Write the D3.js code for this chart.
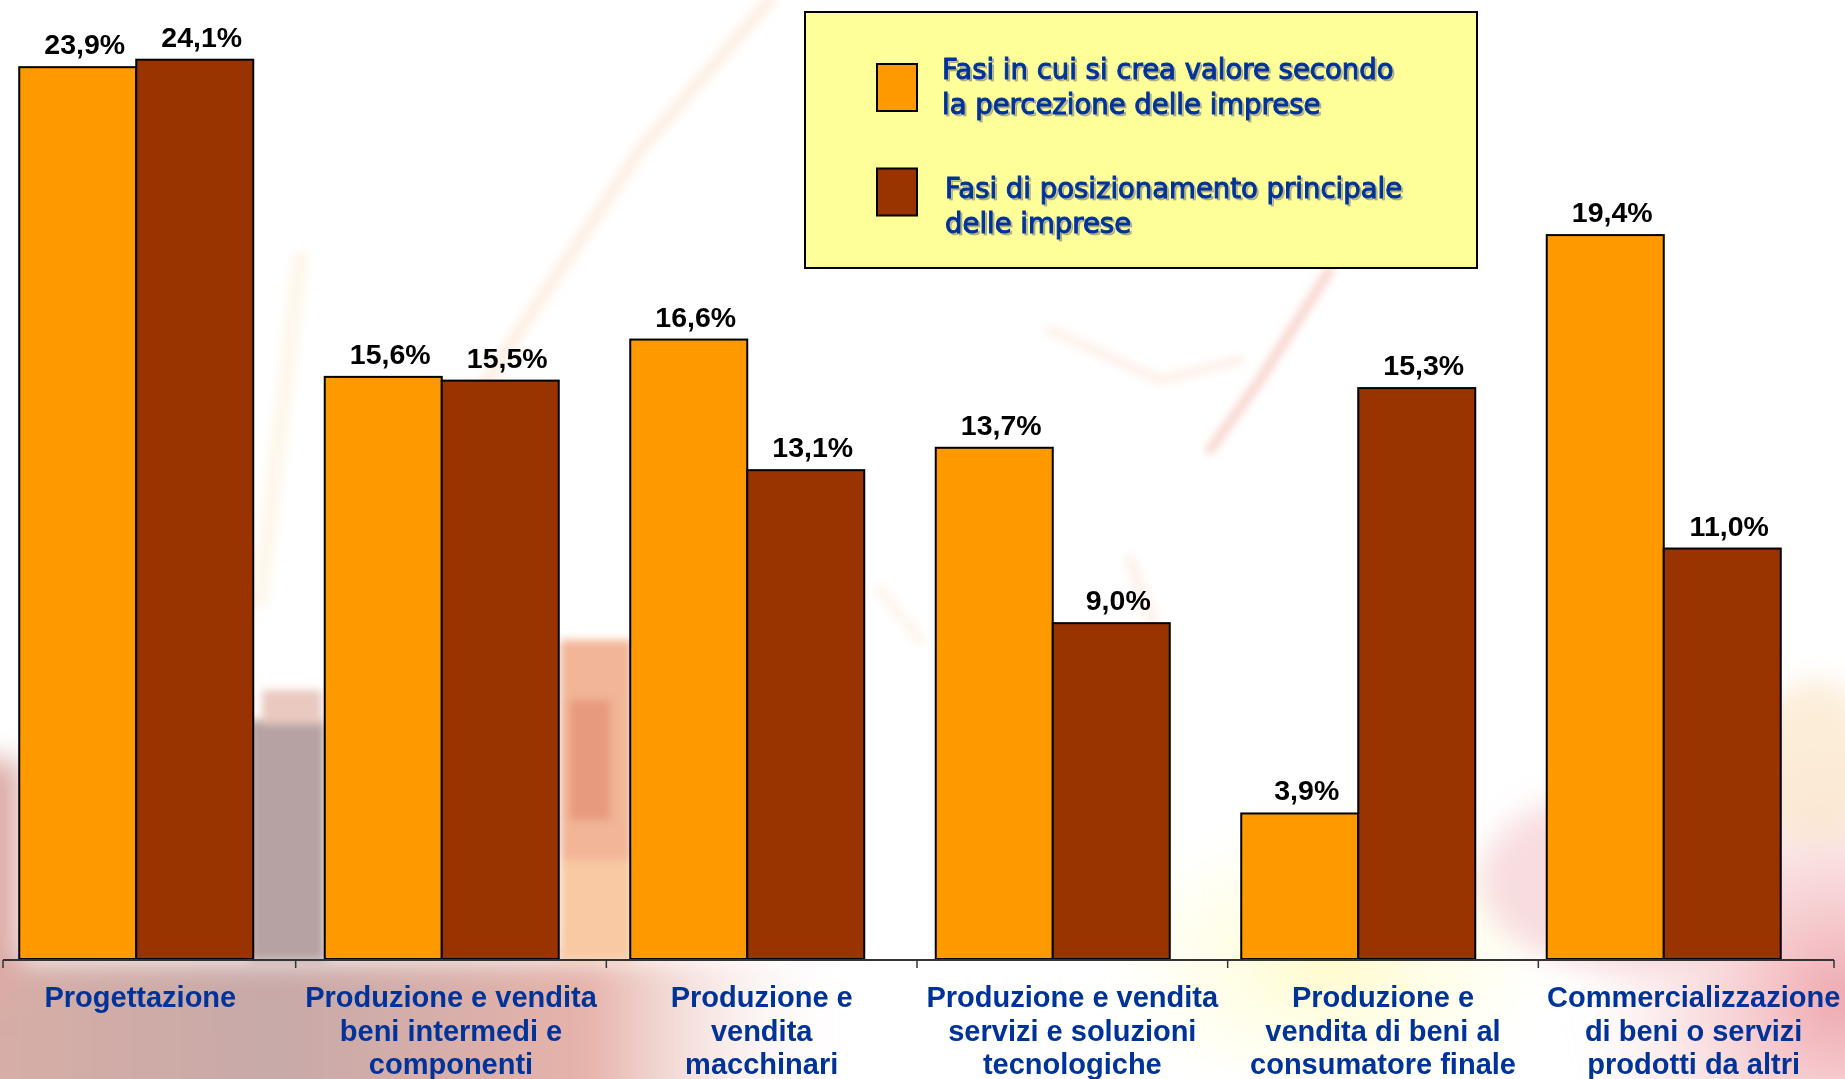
<!DOCTYPE html>
<html lang="it">
<head>
<meta charset="utf-8">
<title>Fasi della catena del valore</title>
<script src="https://cdn.jsdelivr.net/npm/d3@7/dist/d3.min.js"></script>
<style>
  html, body { margin: 0; padding: 0; background: #ffffff; }
  svg { display: block; }
</style>
</head>
<body>
<svg id="chart" width="1845" height="1079"></svg>
<script>
// Categories of the value chain (with their wrapped axis labels)
const categories = [
  "Progettazione",
  "Produzione e vendita beni intermedi e componenti",
  "Produzione e vendita macchinari",
  "Produzione e vendita servizi e soluzioni tecnologiche",
  "Produzione e vendita di beni al consumatore finale",
  "Commercializzazione di beni o servizi prodotti da altri"
];
const categoryLines = [
  ["Progettazione"],
  ["Produzione e vendita", "beni intermedi e", "componenti"],
  ["Produzione e", "vendita", "macchinari"],
  ["Produzione e vendita", "servizi e soluzioni", "tecnologiche"],
  ["Produzione e", "vendita di beni al", "consumatore finale"],
  ["Commercializzazione", "di beni o servizi", "prodotti da altri"]
];

// Series (percent of firms)
const seriesNames = [
  ["Fasi in cui si crea valore secondo", "la percezione delle imprese"],
  ["Fasi di posizionamento principale", "delle imprese"]
];
const valoreSecondoImprese = [23.9, 15.6, 16.6, 13.7, 3.9, 19.4];
const posizionamentoPrincipale = [24.1, 15.5, 13.1, 9.0, 15.3, 11.0];
const seriesColors = ["#FF9900", "#993300"];

const W = 1845, H = 1079;
const svg = d3.select("#chart");

// ---------- soft photographic backdrop ----------
const defs = svg.append("defs");
defs.append("filter").attr("id", "soft").attr("x", "-20%").attr("y", "-20%").attr("width", "140%").attr("height", "140%")
  .append("feGaussianBlur").attr("stdDeviation", 14);
defs.append("filter").attr("id", "softer").attr("x", "-20%").attr("y", "-20%").attr("width", "140%").attr("height", "140%")
  .append("feGaussianBlur").attr("stdDeviation", 4);

const bgLeft = defs.append("linearGradient").attr("id", "bgLeft").attr("x1", 0).attr("y1", 0).attr("x2", 1).attr("y2", 0);
bgLeft.append("stop").attr("offset", "0%").attr("stop-color", "#d9aea6");
bgLeft.append("stop").attr("offset", "35%").attr("stop-color", "#c7a9a8");
bgLeft.append("stop").attr("offset", "70%").attr("stop-color", "#e6b3aa");
bgLeft.append("stop").attr("offset", "100%").attr("stop-color", "#ffffff").attr("stop-opacity", 0);

const bgRight = defs.append("radialGradient").attr("id", "bgRight").attr("cx", "0.5").attr("cy", "0.5").attr("r", "0.5");
bgRight.append("stop").attr("offset", "0%").attr("stop-color", "#eea6ae");
bgRight.append("stop").attr("offset", "100%").attr("stop-color", "#f7c9c9").attr("stop-opacity", 0);

const bgYellow = defs.append("radialGradient").attr("id", "bgYellow").attr("cx", "0.5").attr("cy", "0.5").attr("r", "0.5");
bgYellow.append("stop").attr("offset", "0%").attr("stop-color", "#fffcc8");
bgYellow.append("stop").attr("offset", "100%").attr("stop-color", "#fffde0").attr("stop-opacity", 0);

const backdrop = svg.append("g").attr("class", "backdrop");
const haze = backdrop.append("g").attr("filter", "url(#soft)");
haze.append("rect").attr("x", -40).attr("y", 960).attr("width", 900).attr("height", 160).attr("fill", "url(#bgLeft)");
haze.append("rect").attr("x", -40).attr("y", 760).attr("width", 60).attr("height", 240).attr("fill", "#dcaaa6");
haze.append("ellipse").attr("cx", 1330).attr("cy", 960).attr("rx", 230).attr("ry", 150).attr("fill", "url(#bgYellow)");
haze.append("ellipse").attr("cx", 1840).attr("cy", 1000).attr("rx", 260).attr("ry", 260).attr("fill", "url(#bgRight)");
haze.append("ellipse").attr("cx", 1620).attr("cy", 880).attr("rx", 140).attr("ry", 90).attr("fill", "#f4c6cc").attr("opacity", 0.6);
haze.append("ellipse").attr("cx", 1815).attr("cy", 760).attr("rx", 60).attr("ry", 80).attr("fill", "#fbe6c8").attr("opacity", 0.7);

const patches = backdrop.append("g").attr("filter", "url(#softer)");
// grey-rose block in the first gap
patches.append("rect").attr("x", 250).attr("y", 720).attr("width", 75).attr("height", 240).attr("fill", "#b6a2a2");
patches.append("rect").attr("x", 262).attr("y", 690).attr("width", 60).attr("height", 34).attr("fill", "#e9c9c0");
// warm streaks in the second gap
patches.append("rect").attr("x", 560).attr("y", 640).attr("width", 72).attr("height", 320).attr("fill", "#f2b597");
patches.append("rect").attr("x", 570).attr("y", 700).attr("width", 40).attr("height", 120).attr("fill", "#e79a7e");
patches.append("rect").attr("x", 560).attr("y", 860).attr("width", 72).attr("height", 100).attr("fill", "#f8c9a2");
// faint diagonal light trails
const trails = backdrop.append("g").attr("filter", "url(#softer)").attr("fill", "none").attr("stroke-linecap", "round");
trails.append("path").attr("d", "M770,0 L640,150 L520,330 L430,470").attr("stroke", "#fbe6d2").attr("stroke-width", 14).attr("opacity", 0.55);
trails.append("path").attr("d", "M300,260 L260,600").attr("stroke", "#fdf0dc").attr("stroke-width", 18).attr("opacity", 0.5);
trails.append("path").attr("d", "M1330,270 L1260,380 L1210,450").attr("stroke", "#f1b6a8").attr("stroke-width", 9).attr("opacity", 0.6);
trails.append("path").attr("d", "M1050,330 L1160,380 L1240,360").attr("stroke", "#fbe4d4").attr("stroke-width", 10).attr("opacity", 0.5);
trails.append("path").attr("d", "M1130,560 L1160,640 L1110,700").attr("stroke", "#fbe0d0").attr("stroke-width", 12).attr("opacity", 0.45);
trails.append("path").attr("d", "M880,590 L920,640").attr("stroke", "#fdeadc").attr("stroke-width", 12).attr("opacity", 0.45);

// ---------- scales ----------
const x0 = d3.scaleBand()
  .domain(categories)
  .range([-16.5, 1816.5])
  .paddingInner(0.234)
  .paddingOuter(0.117);
const x1 = d3.scaleBand()
  .domain([0, 1])
  .range([0, x0.bandwidth()]);
const y = d3.scaleLinear()
  .domain([0, 25.7])
  .range([959, 0]);
// category slots for the axis labels; the drawn axis line spans axisExtent
const xAxisBand = d3.scaleBand()
  .domain(categories)
  .range([-15, 1849]);
const axisExtent = [3, 1834];

const rows = categories.map((c, i) => ({
  category: c,
  values: [valoreSecondoImprese[i], posizionamentoPrincipale[i]]
}));

const fmt = v => d3.format(".1f")(v).replace(".", ",") + "%";

// ---------- bars ----------
const groups = svg.append("g").attr("class", "bars")
  .selectAll("g")
  .data(rows)
  .join("g")
  .attr("transform", d => `translate(${x0(d.category)},0)`);

groups.selectAll("rect")
  .data(d => d.values.map((v, k) => ({ v, k })))
  .join("rect")
  .attr("x", d => x1(d.k))
  .attr("y", d => y(d.v))
  .attr("width", x1.bandwidth())
  .attr("height", d => y(0) - y(d.v))
  .attr("fill", d => seriesColors[d.k])
  .attr("stroke", "#000")
  .attr("stroke-width", 2);

groups.selectAll("text")
  .data(d => d.values.map((v, k) => ({ v, k })))
  .join("text")
  .attr("x", d => x1(d.k) + x1.bandwidth() / 2 + 7)
  .attr("y", d => y(d.v) - 13)
  .attr("text-anchor", "middle")
  .attr("font-family", "'Liberation Sans', Arial, sans-serif")
  .attr("font-weight", "bold")
  .attr("font-size", 28.5)
  .attr("fill", "#000")
  .text(d => fmt(d.v));

// ---------- category axis ----------
const axis = svg.append("g").attr("class", "x-axis");
axis.append("line")
  .attr("x1", axisExtent[0]).attr("x2", axisExtent[1])
  .attr("y1", y(0) + 1).attr("y2", y(0) + 1)
  .attr("stroke", "#333").attr("stroke-width", 2);
const tickPositions = [axisExtent[0]]
  .concat(categories.slice(1).map(c => xAxisBand(c)))
  .concat([axisExtent[1]]);
axis.selectAll("line.tick")
  .data(tickPositions)
  .join("line")
  .attr("class", "tick")
  .attr("x1", d => d).attr("x2", d => d)
  .attr("y1", y(0) + 1).attr("y2", y(0) + 9)
  .attr("stroke", "#333").attr("stroke-width", 1.5);

axis.selectAll("text")
  .data(categories)
  .join("text")
  .attr("y", 1007)
  .attr("text-anchor", "middle")
  .attr("font-family", "'Liberation Sans', Arial, sans-serif")
  .attr("font-weight", "bold")
  .attr("font-size", 29)
  .attr("fill", "#003399")
  .each(function(d, i) {
    d3.select(this).selectAll("tspan")
      .data(categoryLines[i])
      .join("tspan")
      .attr("x", xAxisBand(d) + xAxisBand.bandwidth() / 2)
      .attr("dy", (t, j) => j === 0 ? 0 : 33.5)
      .text(t => t);
  });

// ---------- legend ----------
const legend = svg.append("g").attr("class", "legend");
legend.append("rect")
  .attr("x", 805).attr("y", 12).attr("width", 672).attr("height", 256)
  .attr("fill", "#FFFF99").attr("stroke", "#000").attr("stroke-width", 2);

const swatchTop = [64, 168.5];
const textBaseline = [79, 197.5];
legend.selectAll("rect.swatch")
  .data(seriesNames)
  .join("rect")
  .attr("class", "swatch")
  .attr("x", 877).attr("y", (d, i) => swatchTop[i]).attr("width", 40).attr("height", 47)
  .attr("fill", (d, i) => seriesColors[i])
  .attr("stroke", "#000").attr("stroke-width", 2);

function legendText(dx, dy, color) {
  legend.append("g")
    .attr("transform", `translate(${dx},${dy})`)
    .selectAll("text")
    .data(seriesNames)
    .join("text")
    .attr("font-family", "'DejaVu Sans', Verdana, sans-serif")
    .attr("font-size", 27.5)
    .attr("fill", color)
    .attr("stroke", color)
    .attr("stroke-width", 1)
    .selectAll("tspan")
    .data((d, i) => d.map((t, j) => ({ t, y: textBaseline[i] + j * 35, x: i === 0 ? 942 : 945 })))
    .join("tspan")
    .attr("x", d => d.x)
    .attr("y", d => d.y)
    .text(d => d.t);
}
legendText(2, 2, "rgba(60,60,110,0.3)");
legendText(0, 0, "#003399");
</script>
</body>
</html>
